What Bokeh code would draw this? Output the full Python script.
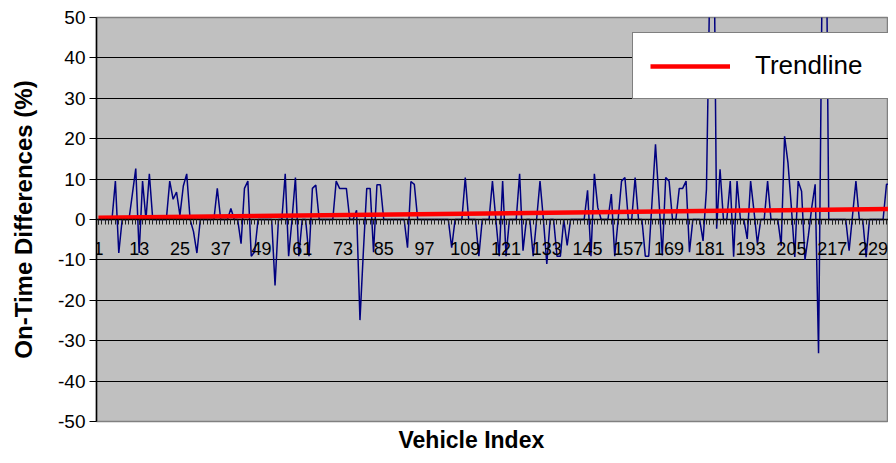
import numpy as np
from bokeh.plotting import figure
from bokeh.models import (LinearAxis, FixedTicker, Range1d, Legend, LegendItem,
                          Title, ColumnDataSource, Grid, CustomJSTickFormatter)
from bokeh.core.properties import value
from bokeh.embed import file_html
from bokeh.resources import INLINE

# ---- data ----
on_time_diff = [
    0, 0, 0, 0, 0, 9.5, -8.3, 0, 0, 0,
    6.3, 12.6, -8.3, 9.5, 0, 11.3, 0, 0, 0, 0,
    0, 9.5, 5, 6.8, 1, 8.3, 11.3, 0, -3, -8.3,
    0, 0, 0, 0, 0, 7.7, 0, 0, 0, 2.7,
    0, 0, -6, 7.7, 9.5, -9.1, -8, 0, 0, 0,
    0, 0, -16.3, 0, 0, 11.3, -9.1, 0, 10.4, -9.1,
    0, 0, -9.1, 7.7, 8.5, 0, 0, 0, 0, 0,
    9.5, 7.7, 7.7, 7.7, 0, 0, 2.3, -24.9, -8, 7.7,
    7.7, -8.1, 8.6, 8.6, 0, 0, 0, 0, 0, 0,
    0, -7, 9.4, 8.7, 0, 0, 0, 0, 0, 0,
    0, 0, 0, 0, -7, 0, 0, 0, 10.4, 0,
    0, 0, -9.1, 0, 0, 0, 9.5, 0, -9.1, 9.5,
    -9.1, 0, 0, 0, 11.3, -7.7, 0, 0, -9.1, 0,
    9.5, 0, -11, 0, 0, -9.1, -9.1, 0, -6.4, 0,
    0, 0, 0, 0, 7.2, -9.1, 11.3, 3, 0, 0,
    0, 6.3, -9.1, 0, 9.5, 10.4, 0, 0, 10.4, 0,
    0, -9.1, -9.1, 4.7, 18.6, 5, -8.9, 10.4, 9.5, 0,
    0, 7.7, 7.7, 9.5, -8.1, 0, 0, 0, -5.3, 7.5,
    60, 90, -2.3, 12.4, 0, 0, 9.5, -9.2, 9.5, 0,
    0, -4.8, 9.5, 2, -6, 0, 0, 9.5, 0, 0,
    0, -6.5, 20.6, 14, 3, -9.3, 9.5, 7, -10, -4,
    3, 8.7, -33.1, 55, 100, 0, 0, 0, 0, 0,
    0, -7.7, 1, 9.5, 0, 0, -9.3, 0, 0, 0,
    0, 0, 8.7, 8.7,
]
vehicle_index = list(range(1, len(on_time_diff) + 1))
trend_x = [1, 240]
trend_y = [0.45, 2.66]
x_tick_labels = list(range(1, 230, 12))
y_ticks = list(range(-50, 51, 10))

FONT = "Liberation Sans"

p = figure(width=888, height=455, output_backend="svg", toolbar_location=None,
           x_range=Range1d(0.441, 233.59), y_range=Range1d(-50, 50),
           x_axis_location=None, y_axis_location=None,
           min_border_left=96, min_border_right=0, min_border_top=17,
           min_border_bottom=31)
p.background_fill_color = "#C0C0C0"
p.border_fill_color = "white"
p.outline_line_color = "#808080"
p.outline_line_width = 1.5
p.xgrid.visible = False
p.ygrid.visible = False

grid = Grid(dimension=1, ticker=FixedTicker(ticks=y_ticks),
            grid_line_color="black", grid_line_width=1)
p.add_layout(grid)

yaxis = LinearAxis(ticker=FixedTicker(ticks=y_ticks),
                   formatter=CustomJSTickFormatter(code="return String(tick)"),
                   axis_label="On-Time Differences (%)",
                   axis_label_text_font=FONT, axis_label_text_font_style="bold",
                   axis_label_text_font_size="24px", axis_label_standoff=18,
                   axis_label_text_color="black",
                   major_label_text_font=FONT, major_label_text_font_size="19px",
                   major_label_text_color="black",
                   major_label_standoff=4,
                   major_tick_out=7, major_tick_in=0, minor_tick_out=0,
                   axis_line_color="black", axis_line_width=1.5,
                   major_tick_line_color="black")
p.add_layout(yaxis, "left")

# category axis crossing at y = 0 (ticks only; labels drawn below as text)
xaxis = LinearAxis(fixed_location=0,
                   ticker=FixedTicker(ticks=x_tick_labels, minor_ticks=vehicle_index),
                   formatter=CustomJSTickFormatter(code="return ''"),
                   major_tick_out=5, major_tick_in=0,
                   minor_tick_out=5, minor_tick_in=0,
                   minor_tick_line_color="#202020",
                   axis_line_color="black", axis_line_width=1.5)
p.add_layout(xaxis, "below")

src = ColumnDataSource(dict(x=vehicle_index, y=on_time_diff))
p.line("x", "y", source=src, line_color="#000080", line_width=1.5)

lab_src = ColumnDataSource(dict(x=x_tick_labels, y=[0] * len(x_tick_labels),
                                t=[str(v) for v in x_tick_labels]))
p.text("x", "y", text="t", source=lab_src, text_font=value(FONT),
       text_font_size="18px", text_align="center", text_baseline="middle",
       y_offset=29, text_color="black")

trend = p.line(trend_x, trend_y, line_color="#FF0000", line_width=4.5)

legend = Legend(items=[LegendItem(label="Trendline", renderers=[trend])],
                location=(536, 322), orientation="vertical",
                label_text_font=FONT, label_text_font_size="26px",
                label_text_color="black",
                glyph_width=80, glyph_height=26, label_standoff=25,
                label_width=117,
                padding=17, margin=0, spacing=0,
                border_line_color="black", border_line_width=1.5,
                background_fill_color="white", background_fill_alpha=1)
p.add_layout(legend)

title = Title(text="Vehicle Index", align="left", offset=302, standoff=6,
              text_font=FONT, text_font_style="bold", text_font_size="23px",
              text_color="black")
p.add_layout(title, "below")

open("out.html", "w").write(file_html(p, INLINE))
